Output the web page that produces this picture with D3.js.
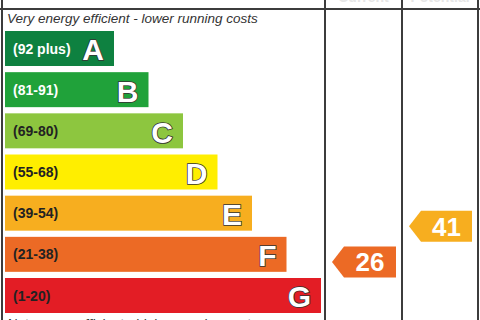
<!DOCTYPE html>
<html lang="en">
<head>
<meta charset="UTF-8">
<title>EPC rating</title>
<style>
  body { margin: 0; background: #fff; }
  svg { display: block; font-family: "Liberation Sans", Arial, sans-serif; }
</style>
</head>
<body>
<div id="chart"></div>
<script src="https://d3js.org/d3.v7.min.js"></script>
<script>
// bands, top (most efficient) first
const letters = ["A", "B", "C", "D", "E", "F", "G"];
const ranges = ["(92 plus)", "(81-91)", "(69-80)", "(55-68)", "(39-54)", "(21-38)", "(1-20)"];
const bandMin = [92, 81, 69, 55, 39, 21, 1];
const bandMax = [100, 91, 80, 68, 54, 38, 20];
const colors = ["#0e8140", "#20a23a", "#8dc63f", "#ffee00", "#f7ae1f", "#ec6a25", "#e31d25"];
const labelColors = ["#fff", "#fff", "#222", "#222", "#222", "#222", "#222"];

const currentScore = 26;
const potentialScore = 41;

const width = 480, height = 320;

const svg = d3.select("#chart").append("svg")
  .attr("width", width)
  .attr("height", height);

const y = d3.scaleBand()
  .domain(letters)
  .range([31, 313])
  .paddingInner(0.15);

const xEnd = d3.scalePoint()
  .domain(letters)
  .range([114, 321]);

const x0 = 5;

// bars
const rows = svg.append("g")
  .selectAll("g")
  .data(letters)
  .join("g")
  .attr("transform", d => `translate(0,${y(d)})`);

rows.append("rect")
  .attr("x", x0)
  .attr("width", d => xEnd(d) - x0)
  .attr("height", y.bandwidth())
  .attr("fill", (d, i) => colors[i]);

rows.append("text")
  .attr("x", 13)
  .attr("y", y.bandwidth() / 2)
  .attr("dy", "0.36em")
  .attr("fill", (d, i) => labelColors[i])
  .style("font-size", "14px")
  .style("font-weight", "bold")
  .text((d, i) => ranges[i]);

rows.append("text")
  .attr("x", d => xEnd(d) - 10)
  .attr("y", y.bandwidth() / 2 + 12)
  .attr("text-anchor", "end")
  .attr("fill", "#fff")
  .attr("stroke", "#333")
  .attr("stroke-width", 1.6)
  .attr("paint-order", "stroke")
  .style("font-size", "30px")
  .style("font-weight", "bold")
  .text(d => d);

// header / footer captions
svg.append("text")
  .attr("x", 7)
  .attr("y", 23)
  .attr("fill", "#333")
  .style("font-size", "13.5px")
  .style("font-style", "italic")
  .text("Very energy efficient - lower running costs");

svg.append("text")
  .attr("x", 7)
  .attr("y", 328)
  .attr("fill", "#333")
  .style("font-size", "13.5px")
  .style("font-style", "italic")
  .text("Not energy efficient - higher running costs");

// column headers, mostly cut off above the frame
const cols = [
  {name: "Current", x0: 325, x1: 402, score: currentScore},
  {name: "Potential", x0: 402, x1: 478, score: potentialScore}
];

svg.append("g")
  .selectAll("text")
  .data(cols)
  .join("text")
  .attr("x", d => (d.x0 + d.x1) / 2)
  .attr("y", 2)
  .attr("text-anchor", "middle")
  .attr("fill", "#e6e6e6")
  .style("font-size", "14px")
  .style("font-weight", "bold")
  .text(d => d.name);

// frame lines
const frame = svg.append("g")
  .attr("stroke", "#3c3c3c")
  .attr("stroke-width", 2);
frame.append("line").attr("x1", 0).attr("x2", width).attr("y1", 9).attr("y2", 9);
[2, 325, 402, 478].forEach(xv => {
  frame.append("line").attr("x1", xv).attr("x2", xv).attr("y1", 0).attr("y2", height);
});

// score arrows
function bandIndex(v) {
  return bandMin.findIndex(m => v >= m);
}
function scoreY(v) {
  const i = bandIndex(v);
  const top = y(letters[i]);
  return d3.scaleLinear()
    .domain([bandMin[i], bandMax[i] + 1])
    .range([top + y.bandwidth(), top])(v);
}

const arrowH = 31, tip = 12;
const arrows = svg.append("g")
  .selectAll("g")
  .data(cols)
  .join("g")
  .attr("transform", d => `translate(${d.x0 + 7},${scoreY(d.score)})`);

arrows.append("path")
  .attr("d", d => {
    const w = d.x1 - d.x0 - 13;
    return `M0,0 L${tip},${-arrowH / 2} L${w},${-arrowH / 2} L${w},${arrowH / 2} L${tip},${arrowH / 2} Z`;
  })
  .attr("fill", d => colors[bandIndex(d.score)]);

arrows.append("text")
  .attr("x", d => (tip + d.x1 - d.x0 - 13) / 2)
  .attr("y", 0)
  .attr("dy", "0.36em")
  .attr("text-anchor", "middle")
  .attr("fill", "#fff")
  .style("font-size", "26px")
  .style("font-weight", "bold")
  .text(d => d.score);
</script>
</body>
</html>
